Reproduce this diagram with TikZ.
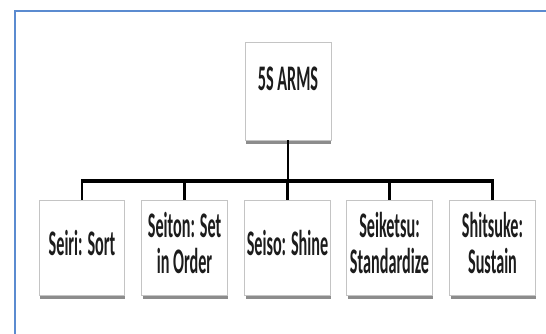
\documentclass[tikz,border=0pt]{standalone}
\usepackage{fontspec}
\setmainfont{Carlito}
\usetikzlibrary{calc}
\definecolor{frameblue}{HTML}{5B8BD0}
\definecolor{boxline}{HTML}{C4C4C4}
\definecolor{shadowgray}{HTML}{8C8C8C}
\definecolor{textdark}{HTML}{1C1C1C}
\newcommand{\narrowtext}[1]{\scalebox{0.45}[1]{\fontsize{36}{34}\selectfont\bfseries\begin{tabular}{@{}c@{}}#1\end{tabular}}}
\begin{document}
\begin{tikzpicture}[x=1pt,y=-1pt,
  box/.style={draw=boxline, line width=0.9pt, fill=white, minimum width=85.5pt, minimum height=95pt, inner sep=0pt},
  topbox/.style={box, minimum width=86pt, minimum height=98pt},
  txt/.style={text=textdark, inner sep=0pt},
  shadowbar/.style={fill=shadowgray},
  trunk/.style={line width=2.6pt, black},
  busline/.style={line width=3.6pt, black},
  drop/.style={line width=2.3pt, black}]
\useasboundingbox (0,0) rectangle (546,333);
\fill[white] (0,0) rectangle (546,333);
\draw[frameblue, line width=2.8pt] (15,11) rectangle (620,420);

% shadows
\fill[shadowbar] (246,140) rectangle (331,144);
\foreach \cx in {82,184.5,287.5,389.5,492.5}{
  \fill[shadowbar] (\cx-42,295) rectangle (\cx+43,299);
}

% top node
\node[topbox] (top) at (288,91) {};
\node[txt] (toptxt) at (288,84) {\narrowtext{5S ARMS}};

% bottom nodes
\node[box] (b1) at (82,247.5) {};
\node[box] (b2) at (184.5,247.5) {};
\node[box] (b3) at (287.5,247.5) {};
\node[box] (b4) at (389.5,247.5) {};
\node[box] (b5) at (492.5,247.5) {};

\node[txt] (t1) at (82,248) {\narrowtext{Seiri: Sort}};
\node[txt] (t2) at (184.5,248) {\narrowtext{Seiton: Set\\in Order}};
\node[txt] (t3) at (287.5,248) {\narrowtext{Seiso: Shine}};
\node[txt] (t4) at (389.5,248) {\narrowtext{Seiketsu:\\Standardize}};
\node[txt] (t5) at (492.5,248) {\narrowtext{Shitsuke:\\Sustain}};

% connectors
\coordinate (bus) at (0,181);
\draw[trunk] (top.south) -- (top.south |- bus);
\draw[busline] ([xshift=-1.2pt]b1.north |- bus) -- ([xshift=1.2pt]b5.north |- bus);
\foreach \i in {1,...,5}{
  \draw[drop] (b\i.north |- bus) -- (b\i.north);
}
\end{tikzpicture}
\end{document}
